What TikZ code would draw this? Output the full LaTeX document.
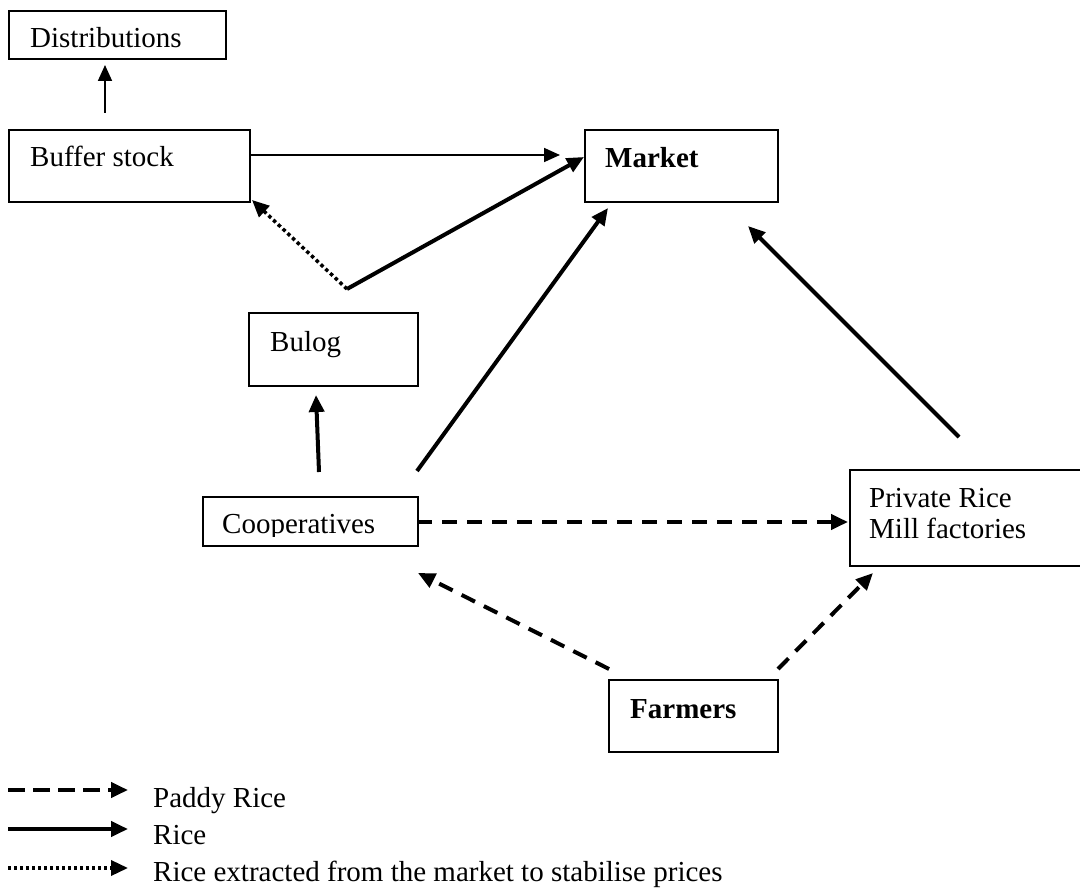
\documentclass[tikz,border=0pt]{standalone}
\usepackage{fontspec}
\setmainfont{Liberation Serif}
\usetikzlibrary{arrows.meta}
\begin{document}
\begin{tikzpicture}[x=1pt,y=-1pt,
  box/.style={draw,line width=2.2pt,inner sep=0pt,anchor=north west},
  txt/.style={inner sep=0pt,anchor=base west,font=\fontsize{29}{35}\selectfont},
  thinarrow/.style={line width=1.8pt,-{Triangle[length=16pt,width=14pt]}},
  thickarrow/.style={line width=4pt,-{Triangle[length=17pt,width=15pt]}},
  dasharrow/.style={line width=4pt,dash pattern=on 15pt off 10pt,-{Triangle[length=17pt,width=15pt]}},
  dotarrow/.style={line width=3.5pt,dash pattern=on 3.5pt off 3pt,-{Triangle[length=17pt,width=15pt]}}]
\useasboundingbox (0,0) rectangle (1080,888);
\clip (0,0) rectangle (1080,888);
\fill[white] (0,0) rectangle (1080,888);
% boxes
\node[box,minimum width=217pt,minimum height=48pt] (dist) at (8,10) {};
\node[txt] (distt) at (30,48) {Distributions};
\node[box,minimum width=241pt,minimum height=72pt] (buffer) at (8,129) {};
\node[txt] (buffert) at (30,167) {Buffer stock};
\node[box,minimum width=193pt,minimum height=72pt] (market) at (584,129) {};
\node[txt,font=\fontsize{29}{35}\selectfont\bfseries] (marktt) at (605,168) {Market};
\node[box,minimum width=169pt,minimum height=73pt] (bulog) at (248,312) {};
\node[txt] (bulogt) at (270,351) {Bulog};
\node[box,minimum width=215pt,minimum height=49pt] (coop) at (202,496) {};
\begin{scope}
\clip (202,496) rectangle (417,536);
\node[txt] (coopt) at (222,533) {Cooperatives};
\end{scope}
\node[box,minimum width=245pt,minimum height=96pt] (priv) at (849,469) {};
\node[txt] (privt1) at (869,507) {Private Rice};
\node[txt] (privt2) at (869,538) {Mill factories};
\node[box,minimum width=169pt,minimum height=72pt] (farm) at (608,679) {};
\node[txt,font=\fontsize{29}{35}\selectfont\bfseries] (farmt) at (630,718) {Farmers};
% connector end points
\coordinate (d1) at (105,113); \coordinate (d2) at (105,65);
\coordinate (b1) at (249,155); \coordinate (b2) at (560,155);
\coordinate (k) at (347,289); \coordinate (k2) at (252,200); \coordinate (k3) at (584,157);
\coordinate (c1) at (319,472); \coordinate (c2) at (316,395);
\coordinate (c3) at (417,471); \coordinate (c4) at (608,208);
\coordinate (p1) at (959,437); \coordinate (p2) at (748,226);
\coordinate (c5) at (417,522); \coordinate (p3) at (848,522);
\coordinate (f1) at (609,669); \coordinate (c6) at (418,573);
\coordinate (f2) at (778,669); \coordinate (p4) at (873,573);
% connectors
\draw[thinarrow] (d1) -- (d2);
\draw[thinarrow] (b1) -- (b2);
\draw[dotarrow] (k) -- (k2);
\draw[thickarrow] (k) -- (k3);
\draw[thickarrow] (c1) -- (c2);
\draw[thickarrow] (c3) -- (c4);
\draw[thickarrow] (p1) -- (p2);
\draw[dasharrow] (c5) -- (p3);
\draw[dasharrow] (f1) -- (c6);
\draw[dasharrow] (f2) -- (p4);
% legend
\coordinate (l1a) at (8,790); \coordinate (l1b) at (128,790);
\coordinate (l2a) at (8,829); \coordinate (l2b) at (128,829);
\coordinate (l3a) at (8,868); \coordinate (l3b) at (128,868);
\draw[dasharrow,dash pattern=on 17pt off 8pt] (l1a) -- (l1b);
\draw[thickarrow] (l2a) -- (l2b);
\draw[dotarrow,dash pattern=on 3pt off 3pt] (l3a) -- (l3b);
\node[txt] (lt1) at (153,807) {Paddy Rice};
\node[txt] (lt2) at (153,844) {Rice};
\node[txt] (lt3) at (153,881) {Rice extracted from the market to stabilise prices};
\end{tikzpicture}
\end{document}
